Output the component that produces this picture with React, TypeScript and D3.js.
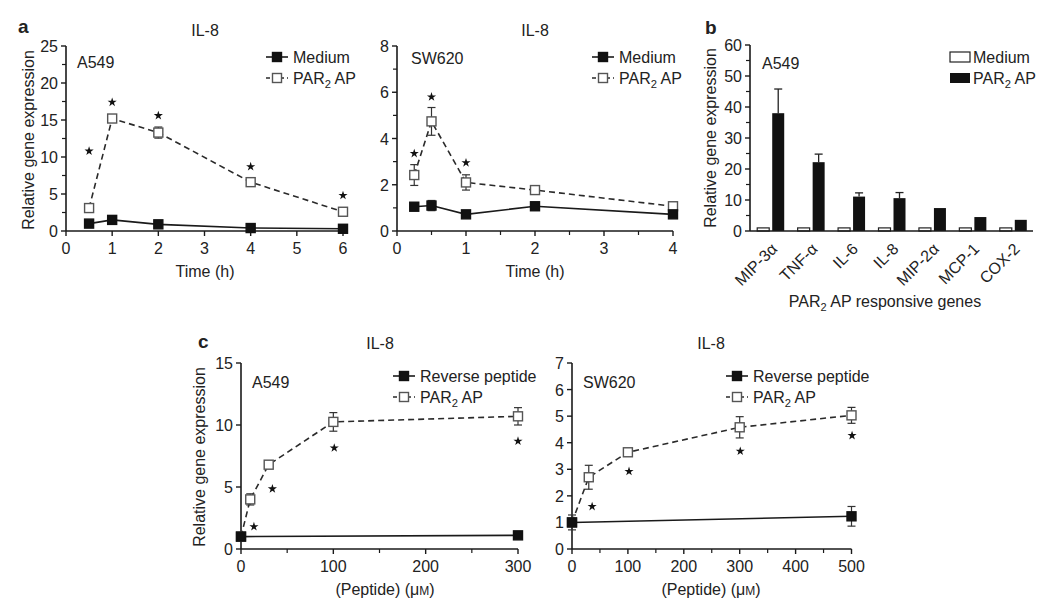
import React from 'react';
import * as d3 from 'd3';

const FONT = '"Liberation Sans", Arial, Helvetica, sans-serif';

// ---------- Panel a, A549 (time course) ----------
const a1Time = [0.5, 1, 2, 4, 6];
const a1Medium = [1.0, 1.5, 0.9, 0.4, 0.3];
const a1MediumErr = [0, 0, 0, 0, 0];
const a1Par = [3.1, 15.2, 13.3, 6.6, 2.6];
const a1ParErr = [0.2, 0.4, 0.75, 0.2, 0.2];
const a1StarX = [0.5, 1, 2, 4, 6];
const a1StarY = [10.8, 17.4, 15.6, 8.7, 4.8];

// ---------- Panel a, SW620 (time course) ----------
const a2Time = [0.25, 0.5, 1, 2, 4];
const a2Medium = [1.05, 1.1, 0.72, 1.07, 0.72];
const a2MediumErr = [0.15, 0.22, 0.05, 0.05, 0.05];
const a2Par = [2.42, 4.74, 2.1, 1.77, 1.07];
const a2ParErr = [0.45, 0.6, 0.33, 0.18, 0.1];
const a2StarX = [0.25, 0.5, 1];
const a2StarY = [3.35, 5.8, 2.95];

// ---------- Panel b, A549 genes ----------
const bGenes = ['MIP-3α', 'TNF-α', 'IL-6', 'IL-8', 'MIP-2α', 'MCP-1', 'COX-2'];
const bMedium = [1, 1, 1, 1, 1, 1, 1];
const bPar = [38, 22.2, 11.1, 10.6, 7.4, 4.5, 3.6];
const bParErr = [7.8, 2.6, 1.2, 1.8, 0, 0, 0];

// ---------- Panel c, A549 dose ----------
const c1RevX = [0, 300];
const c1Rev = [1.0, 1.1];
const c1RevErr = [0, 0];
const c1ParX = [0, 10, 30, 100, 300];
const c1Par = [1.0, 4.0, 6.8, 10.25, 10.7];
const c1ParErr = [0, 0.45, 0.3, 0.75, 0.7];
const c1StarX = [14, 34, 101, 300];
const c1StarY = [1.8, 4.85, 8.15, 8.7];

// ---------- Panel c, SW620 dose ----------
const c2RevX = [0, 500];
const c2Rev = [1.0, 1.23];
const c2RevErr = [0.28, 0.37];
const c2ParX = [0, 30, 100, 300, 500];
const c2Par = [1.0, 2.7, 3.64, 4.58, 5.03];
const c2ParErr = [0, 0.45, 0.08, 0.4, 0.3];
const c2StarX = [36, 102, 301, 501];
const c2StarY = [1.6, 2.92, 3.68, 4.27];

type Series = { x: number[]; y: number[]; err: number[]; filled: boolean };

const AX = '#1a1a1a';

function Marker({ x, y, filled }: { x: number; y: number; filled: boolean }) {
  return (
    <rect
      x={x - 4.5}
      y={y - 4.5}
      width={9}
      height={9}
      fill={filled ? '#111' : '#fff'}
      stroke={filled ? '#111' : '#555'}
      strokeWidth={1.4}
    />
  );
}

function ErrBar({ x, y0, y1, cap = 4 }: { x: number; y0: number; y1: number; cap?: number }) {
  return (
    <g stroke="#333" strokeWidth={1.2}>
      <line x1={x} x2={x} y1={y0} y2={y1} />
      <line x1={x - cap} x2={x + cap} y1={y0} y2={y0} />
      <line x1={x - cap} x2={x + cap} y1={y1} y2={y1} />
    </g>
  );
}

function Axes({
  x,
  y,
  xTicks,
  xMinor,
  yTicks,
  yMinor,
}: {
  x: d3.ScaleLinear<number, number>;
  y: d3.ScaleLinear<number, number>;
  xTicks: number[];
  xMinor: number[];
  yTicks: number[];
  yMinor: number[];
}) {
  const [x0, x1] = x.range();
  const [yb, yt] = y.range();
  return (
    <g fontFamily={FONT} fontSize={16} fill="#222">
      <line x1={x0} x2={x1} y1={yb} y2={yb} stroke={AX} strokeWidth={1.6} />
      <line x1={x0} x2={x0} y1={yb} y2={yt} stroke={AX} strokeWidth={1.6} />
      {xTicks.map((t) => (
        <g key={'xt' + t}>
          <line x1={x(t)} x2={x(t)} y1={yb} y2={yb + 5} stroke={AX} strokeWidth={1.4} />
          <text x={x(t)} y={yb + 23} textAnchor="middle">
            {t}
          </text>
        </g>
      ))}
      {xMinor.map((t) => (
        <line key={'xm' + t} x1={x(t)} x2={x(t)} y1={yb} y2={yb + 4} stroke={AX} strokeWidth={1.2} />
      ))}
      {yTicks.map((t) => (
        <g key={'yt' + t}>
          <line x1={x0 - 5} x2={x0} y1={y(t)} y2={y(t)} stroke={AX} strokeWidth={1.4} />
          <text x={x0 - 8} y={y(t) + 6} textAnchor="end">
            {t}
          </text>
        </g>
      ))}
      {yMinor.map((t) => (
        <line key={'ym' + t} x1={x0 - 4} x2={x0} y1={y(t)} y2={y(t)} stroke={AX} strokeWidth={1.2} />
      ))}
    </g>
  );
}

function Star({ x, y }: { x: number; y: number }) {
  const p = d3.symbol().type(d3.symbolStar).size(26)() as string;
  return <path d={p} transform={`translate(${x},${y})`} fill="#111" />;
}

function LinePanel({
  x,
  y,
  series,
  starsX,
  starsY,
  xTicks,
  xMinor,
  yTicks,
  yMinor,
}: {
  x: d3.ScaleLinear<number, number>;
  y: d3.ScaleLinear<number, number>;
  series: Series[];
  starsX: number[];
  starsY: number[];
  xTicks: number[];
  xMinor: number[];
  yTicks: number[];
  yMinor: number[];
}) {
  const line = d3
    .line<[number, number]>()
    .x((d) => x(d[0]))
    .y((d) => y(d[1]));
  const ordered = [...series].sort((a, b) => (a.filled === b.filled ? 0 : a.filled ? 1 : -1));
  return (
    <g>
      <Axes x={x} y={y} xTicks={xTicks} xMinor={xMinor} yTicks={yTicks} yMinor={yMinor} />
      {ordered.map((s, i) => {
        const pts = s.x.map((v, j) => [v, s.y[j]] as [number, number]);
        return (
          <g key={i}>
            <path
              d={line(pts) as string}
              fill="none"
              stroke={s.filled ? '#1a1a1a' : '#2a2a2a'}
              strokeWidth={1.6}
              strokeDasharray={s.filled ? undefined : '6,4'}
            />
            {pts.map((p, j) =>
              s.err[j] > 0 ? (
                <ErrBar key={'e' + j} x={x(p[0])} y0={y(p[1] + s.err[j])} y1={y(p[1] - s.err[j])} />
              ) : null
            )}
            {pts.map((p, j) => (
              <Marker key={'m' + j} x={x(p[0])} y={y(p[1])} filled={s.filled} />
            ))}
          </g>
        );
      })}
      {starsX.map((sx, i) => (
        <Star key={'s' + i} x={x(sx)} y={y(starsY[i])} />
      ))}
    </g>
  );
}

function ParLabel({ x, y, size = 16 }: { x: number; y: number; size?: number }) {
  return (
    <text x={x} y={y} fontFamily={FONT} fontSize={size} fill="#222">
      PAR
      <tspan fontSize={size * 0.7} dy={4}>
        2
      </tspan>
      <tspan dy={-4}> AP</tspan>
    </text>
  );
}

function LineLegend({ x, y1, y2, label1 }: { x: number; y1: number; y2: number; label1: string }) {
  const w = 22;
  return (
    <g>
      <line x1={x} x2={x + w} y1={y1} y2={y1} stroke="#1a1a1a" strokeWidth={1.6} />
      <Marker x={x + w / 2} y={y1} filled={true} />
      <text x={x + w + 5} y={y1 + 6} fontFamily={FONT} fontSize={16} fill="#222">
        {label1}
      </text>
      <line x1={x} x2={x + w} y1={y2} y2={y2} stroke="#2a2a2a" strokeWidth={1.4} strokeDasharray="4,3" />
      <Marker x={x + w / 2} y={y2} filled={false} />
      <ParLabel x={x + w + 5} y={y2 + 6} />
    </g>
  );
}

function Txt({
  x,
  y,
  children,
  anchor = 'start',
  size = 16,
  weight = 'normal',
  rotate = 0,
}: {
  x: number;
  y: number;
  children: React.ReactNode;
  anchor?: string;
  size?: number;
  weight?: string;
  rotate?: number;
}) {
  return (
    <text
      x={0}
      y={0}
      transform={`translate(${x},${y}) rotate(${rotate})`}
      textAnchor={anchor as any}
      fontFamily={FONT}
      fontSize={size}
      fontWeight={weight}
      fill="#222"
    >
      {children}
    </text>
  );
}

function range(a: number, b: number, s: number) {
  return d3.range(a, b + s / 2, s);
}

export default function App() {
  // scales
  const xA1 = d3.scaleLinear().domain([0, 6]).range([66, 343]);
  const yA1 = d3.scaleLinear().domain([0, 25]).range([231, 46]);
  const xA2 = d3.scaleLinear().domain([0, 4]).range([397, 673]);
  const yA2 = d3.scaleLinear().domain([0, 8]).range([231, 46]);
  const xC1 = d3.scaleLinear().domain([0, 300]).range([241, 518]);
  const yC1 = d3.scaleLinear().domain([0, 15]).range([549, 363]);
  const xC2 = d3.scaleLinear().domain([0, 500]).range([572, 851.5]);
  const yC2 = d3.scaleLinear().domain([0, 7]).range([549, 363]);

  const xB = d3.scaleBand<string>().domain(bGenes).range([750, 1033]).padding(0);
  const xBInner = d3.scaleBand<string>().domain(['Medium', 'PAR']).range([-13, 14]).paddingInner(0.2);
  const yB = d3.scaleLinear().domain([0, 60]).range([231, 45]);

  const bYTicks = range(0, 60, 10);
  const bYMinor = range(5, 55, 10);

  return (
    <svg
      width={1050}
      height={614}
      style={{ position: 'fixed', left: 0, top: 0, background: '#fff' }}
    >
      <rect width={1050} height={614} fill="#fff" />

      {/* ---------------- Panel a ---------------- */}
      <Txt x={18} y={33} size={19} weight="bold">a</Txt>
      <Txt x={205} y={36} anchor="middle">IL-8</Txt>
      <Txt x={28} y={140} anchor="middle" rotate={-90}>
        <tspan dy={6}>Relative gene expression</tspan>
      </Txt>
      <Txt x={77} y={68}>A549</Txt>
      <LinePanel
        x={xA1}
        y={yA1}
        series={[
          { x: a1Time, y: a1Medium, err: a1MediumErr, filled: true },
          { x: a1Time, y: a1Par, err: a1ParErr, filled: false },
        ]}
        starsX={a1StarX}
        starsY={a1StarY}
        xTicks={range(0, 6, 1)}
        xMinor={[]}
        yTicks={range(0, 25, 5)}
        yMinor={range(2.5, 22.5, 5)}
      />
      <Txt x={205} y={277} anchor="middle">Time (h)</Txt>
      <LineLegend x={266} y1={57} y2={78} label1="Medium" />

      <Txt x={535} y={36} anchor="middle">IL-8</Txt>
      <Txt x={411} y={64}>SW620</Txt>
      <LinePanel
        x={xA2}
        y={yA2}
        series={[
          { x: a2Time, y: a2Medium, err: a2MediumErr, filled: true },
          { x: a2Time, y: a2Par, err: a2ParErr, filled: false },
        ]}
        starsX={a2StarX}
        starsY={a2StarY}
        xTicks={range(0, 4, 1)}
        xMinor={range(0.5, 3.5, 1)}
        yTicks={range(0, 8, 2)}
        yMinor={range(1, 7, 2)}
      />
      <Txt x={535} y={277} anchor="middle">Time (h)</Txt>
      <LineLegend x={592} y1={57} y2={78} label1="Medium" />

      {/* ---------------- Panel b ---------------- */}
      <Txt x={705} y={34} size={19} weight="bold">b</Txt>
      <Txt x={710} y={138} anchor="middle" rotate={-90}>
        <tspan dy={6}>Relative gene expression</tspan>
      </Txt>
      <Txt x={762} y={69}>A549</Txt>
      <g>
        {bGenes.map((g, i) => {
          const c = (xB(g) as number) + xB.bandwidth() / 2;
          const bw = xBInner.bandwidth();
          const xm = c + (xBInner('Medium') as number);
          const xp = c + (xBInner('PAR') as number);
          return (
            <g key={g}>
              <rect
                x={xm}
                y={yB(bMedium[i])}
                width={bw}
                height={yB(0) - yB(bMedium[i])}
                fill="#fff"
                stroke="#222"
                strokeWidth={1.2}
              />
              {bParErr[i] > 0 && (
                <g stroke="#222" strokeWidth={1.3}>
                  <line x1={xp + bw / 2} x2={xp + bw / 2} y1={yB(bPar[i])} y2={yB(bPar[i] + bParErr[i])} />
                  <line
                    x1={xp + bw / 2 - 4}
                    x2={xp + bw / 2 + 4}
                    y1={yB(bPar[i] + bParErr[i])}
                    y2={yB(bPar[i] + bParErr[i])}
                  />
                </g>
              )}
              <rect x={xp} y={yB(bPar[i])} width={bw} height={yB(0) - yB(bPar[i])} fill="#111" />
              <Txt x={c + 8} y={250} anchor="end" rotate={-45}>
                {g}
              </Txt>
            </g>
          );
        })}
      </g>
      <g fontFamily={FONT} fontSize={16} fill="#222">
        <line x1={750} x2={1033} y1={yB(0)} y2={yB(0)} stroke={AX} strokeWidth={1.6} />
        <line x1={750} x2={750} y1={yB(0)} y2={yB(60)} stroke={AX} strokeWidth={1.6} />
        {bYTicks.map((t) => (
          <g key={t}>
            <line x1={745} x2={750} y1={yB(t)} y2={yB(t)} stroke={AX} strokeWidth={1.4} />
            <text x={742} y={yB(t) + 6} textAnchor="end">
              {t}
            </text>
          </g>
        ))}
        {bYMinor.map((t) => (
          <line key={'m' + t} x1={746} x2={750} y1={yB(t)} y2={yB(t)} stroke={AX} strokeWidth={1.2} />
        ))}
      </g>
      <rect x={950} y={52} width={20} height={10} fill="#fff" stroke="#222" strokeWidth={1.2} />
      <Txt x={973} y={63}>Medium</Txt>
      <rect x={950} y={73} width={20} height={10} fill="#111" />
      <ParLabel x={973} y={84} />
      <text x={885} y={307} textAnchor="middle" fontFamily={FONT} fontSize={16} fill="#222">
        PAR
        <tspan fontSize={11} dy={4}>
          2
        </tspan>
        <tspan dy={-4}> AP responsive genes</tspan>
      </text>

      {/* ---------------- Panel c ---------------- */}
      <Txt x={198} y={348} size={19} weight="bold">c</Txt>
      <Txt x={380} y={349} anchor="middle">IL-8</Txt>
      <Txt x={199} y={457} anchor="middle" rotate={-90}>
        <tspan dy={6}>Relative gene expression</tspan>
      </Txt>
      <Txt x={252} y={388}>A549</Txt>
      <LinePanel
        x={xC1}
        y={yC1}
        series={[
          { x: c1ParX, y: c1Par, err: c1ParErr, filled: false },
          { x: c1RevX, y: c1Rev, err: c1RevErr, filled: true },
        ]}
        starsX={c1StarX}
        starsY={c1StarY}
        xTicks={range(0, 300, 100)}
        xMinor={range(50, 250, 100)}
        yTicks={range(0, 15, 5)}
        yMinor={[]}
      />
      <text x={385} y={595} textAnchor="middle" fontFamily={FONT} fontSize={16} fill="#222">
        (Peptide) (μ<tspan fontSize={12}>M</tspan>)
      </text>
      <LineLegend x={393} y1={376} y2={397} label1="Reverse peptide" />

      <Txt x={711} y={349} anchor="middle">IL-8</Txt>
      <Txt x={583} y={388}>SW620</Txt>
      <LinePanel
        x={xC2}
        y={yC2}
        series={[
          { x: c2ParX, y: c2Par, err: c2ParErr, filled: false },
          { x: c2RevX, y: c2Rev, err: c2RevErr, filled: true },
        ]}
        starsX={c2StarX}
        starsY={c2StarY}
        xTicks={range(0, 500, 100)}
        xMinor={range(50, 450, 100)}
        yTicks={range(0, 7, 1)}
        yMinor={[]}
      />
      <text x={711} y={595} textAnchor="middle" fontFamily={FONT} fontSize={16} fill="#222">
        (Peptide) (μ<tspan fontSize={12}>M</tspan>)
      </text>
      <LineLegend x={726} y1={376} y2={397} label1="Reverse peptide" />
    </svg>
  );
}
